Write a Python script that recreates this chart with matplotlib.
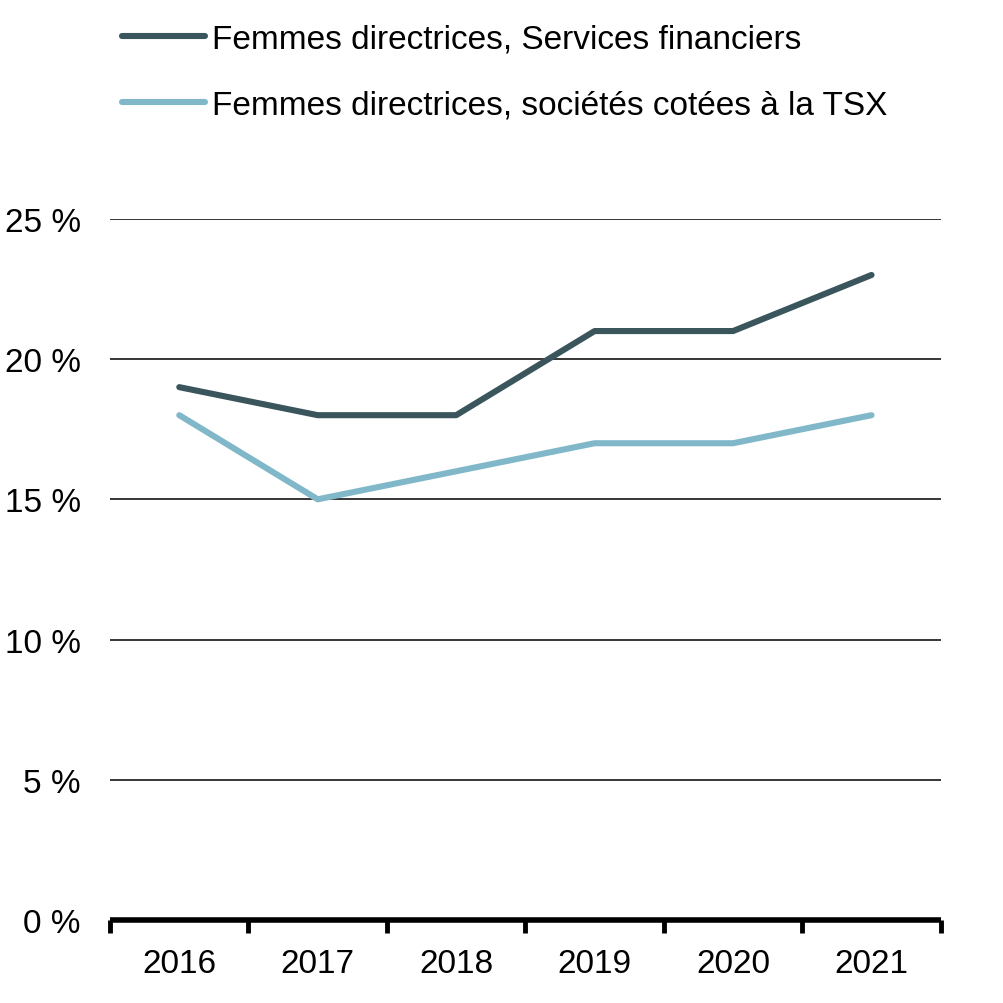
import matplotlib
matplotlib.use('Agg')
import matplotlib.pyplot as plt
import numpy as np

plt.rcParams['font.family'] = ['Liberation Sans', 'DejaVu Sans']

# Data
years = ['2016', '2017', '2018', '2019', '2020', '2021']
services_fin = [19, 18, 18, 21, 21, 23]
tsx = [18, 15, 16, 17, 17, 18]
labels = ['Femmes directrices, Services financiers',
          'Femmes directrices, sociétés cotées à la TSX']
yticks = [0, 5, 10, 15, 20, 25]

dark = '#3a555b'
light = '#80b8c9'

fig = plt.figure(figsize=(10.04, 10.04), dpi=100)
ax = fig.add_axes([0.1096, 0.0827, 0.8274, 0.6983])

x = np.arange(len(years))
ax.plot(x, services_fin, color=dark, linewidth=4.4, label=labels[0], zorder=3,
        solid_capstyle='round')
ax.plot(x, tsx, color=light, linewidth=4.4, label=labels[1], zorder=3,
        solid_capstyle='round')

ax.set_xlim(-0.5, len(years) - 0.5)
ax.set_ylim(0, 25)
ax.set_yticks(yticks)
ax.set_yticklabels([f'{v} %' for v in yticks], fontsize=24)
ax.yaxis.grid(True, color='black', linewidth=1.1)
ax.set_axisbelow(True)
ax.tick_params(axis='y', length=0, pad=21)

# category labels centered, ticks on boundaries
ax.set_xticks(x)
ax.set_xticklabels(years, fontsize=24)
ax.tick_params(axis='x', which='major', length=0, pad=20)
ax.set_xticks(np.arange(-0.5, len(years)), minor=True)
ax.tick_params(axis='x', which='minor', length=9, width=3.5, color='black', direction='out')

for s in ['top', 'right', 'left']:
    ax.spines[s].set_visible(False)
ax.spines['bottom'].set_linewidth(4)
ax.spines['bottom'].set_capstyle('butt')

ax.legend(loc='upper left', bbox_to_anchor=(0.108, 0.989), bbox_transform=fig.transFigure,
          frameon=False, fontsize=24, handlelength=2.5, handletextpad=0.22,
          labelspacing=1.05, borderaxespad=0)

fig.savefig('out.png', dpi=100)
